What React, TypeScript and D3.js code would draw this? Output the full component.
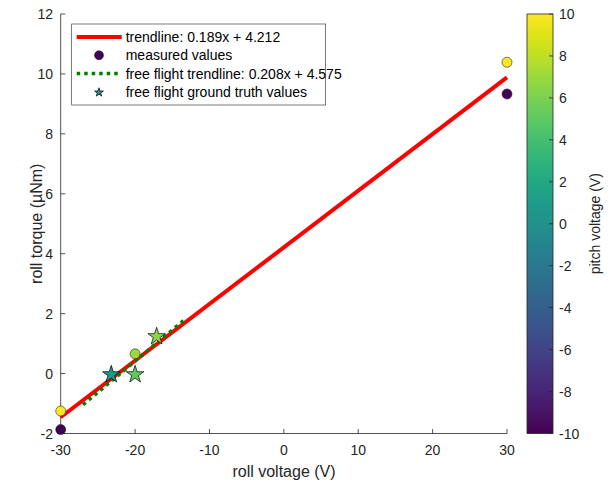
import React from "react";
import * as d3 from "d3";

const measuredRoll = [-30, -30, -20, 30, 30];
const measuredTorque = [-1.25, -1.87, 0.66, 10.39, 9.33];
const measuredPitch = [10, -10, 7, 10, -10];

const freeFlightRoll = [-23.2, -20, -17.1];
const freeFlightTorque = [0, 0, 1.27];
const freeFlightPitch = [0.5, 5, 6.5];

const trendSlope = 0.189;
const trendIntercept = 4.212;
const trendRange = [-30, 30];

const ffSlope = 0.208;
const ffIntercept = 4.575;
const ffRange = [-27, -13.5];

const xTicks = [-30, -20, -10, 0, 10, 20, 30];
const yTicks = [-2, 0, 2, 4, 6, 8, 10, 12];
const cTicks = [-10, -8, -6, -4, -2, 0, 2, 4, 6, 8, 10];

const legendLabels = [
  "trendline: 0.189x + 4.212",
  "measured values",
  "free flight trendline: 0.208x + 4.575",
  "free flight ground truth values",
];

const FONT = "'Liberation Sans', Arial, Helvetica, sans-serif";
const AX = "#262626";

export default function App() {
  const W = 611;
  const H = 485;
  const x = d3.scaleLinear().domain([-30, 30]).range([60.7, 507]);
  const y = d3.scaleLinear().domain([-2, 12]).range([433.5, 14]);
  const cb = d3.scaleLinear().domain([-10, 10]).range([433.5, 14]);
  const color = (v: number) => d3.interpolateViridis((v + 10) / 20);

  const line = d3
    .line<number>()
    .x((d) => x(d))
    .y((d) => y(trendSlope * d + trendIntercept));
  const ffLine = d3
    .line<number>()
    .x((d) => x(d))
    .y((d) => y(ffSlope * d + ffIntercept));

  const star = d3.symbol().type(d3.symbolStar).size(95)();
  const starSmall = d3.symbol().type(d3.symbolStar).size(24)();

  const cbX0 = 527;
  const cbX1 = 553;
  const stops = d3.range(0, 1.0001, 0.05);

  const lgX = 71.7;
  const lgY = 24;
  const lgW = 254;
  const lgH = 81;
  const rowY = (i: number) => 37 + i * 18.3;

  return (
    <svg
      width={W}
      height={H}
      style={{ position: "absolute", left: 0, top: 0, background: "#fff" }}
      fontFamily={FONT}
    >
      <defs>
        <linearGradient id="vir" x1="0" y1="1" x2="0" y2="0">
          {stops.map((t, i) => (
            <stop key={i} offset={t} stopColor={d3.interpolateViridis(t)} />
          ))}
        </linearGradient>
      </defs>
      <rect x={0} y={0} width={W} height={H} fill="#fff" />

      {/* axes */}
      <line x1={x(-30)} x2={x(30)} y1={y(-2)} y2={y(-2)} stroke={AX} strokeWidth={0.8} />
      <line x1={x(-30)} x2={x(-30)} y1={y(-2)} y2={y(12)} stroke={AX} strokeWidth={0.8} />
      {xTicks.map((t) => (
        <g key={"x" + t}>
          <line x1={x(t)} x2={x(t)} y1={y(-2)} y2={y(-2) - 4.5} stroke={AX} strokeWidth={0.8} />
          <text x={x(t)} y={455} textAnchor="middle" fontSize={14} fill={AX}>
            {t}
          </text>
        </g>
      ))}
      {yTicks.map((t) => (
        <g key={"y" + t}>
          <line x1={x(-30)} x2={x(-30) + 4.5} y1={y(t)} y2={y(t)} stroke={AX} strokeWidth={0.8} />
          <text x={53} y={y(t) + 5} textAnchor="end" fontSize={14} fill={AX}>
            {t}
          </text>
        </g>
      ))}
      <text x={284} y={477} textAnchor="middle" fontSize={16} fill={AX}>
        roll voltage (V)
      </text>
      <text
        transform={`translate(42,${(y(-2) + y(12)) / 2}) rotate(-90)`}
        textAnchor="middle"
        fontSize={16}
        fill={AX}
      >
        roll torque (µNm)
      </text>

      {/* lines */}
      <path d={line(trendRange) || ""} stroke="#ff0000" strokeWidth={4} fill="none" />
      <path
        d={ffLine(ffRange) || ""}
        stroke="#008000"
        strokeWidth={3.5}
        strokeDasharray="3.5,4"
        fill="none"
      />

      {/* measured */}
      {measuredRoll.map((r, i) => (
        <circle
          key={"m" + i}
          cx={x(r)}
          cy={y(measuredTorque[i])}
          r={5}
          fill={color(measuredPitch[i])}
          stroke={AX}
          strokeWidth={0.6}
        />
      ))}
      {freeFlightRoll.map((r, i) => (
        <path
          key={"s" + i}
          d={star || ""}
          transform={`translate(${x(r)},${y(freeFlightTorque[i]) + 1})`}
          fill={color(freeFlightPitch[i])}
          stroke="#000"
          strokeWidth={0.7}
        />
      ))}

      {/* legend */}
      <rect x={lgX} y={lgY} width={lgW} height={lgH} fill="#fff" stroke={AX} strokeWidth={0.6} />
      <line x1={76.7} x2={121.7} y1={rowY(0)} y2={rowY(0)} stroke="#ff0000" strokeWidth={4} />
      <circle cx={99} cy={rowY(1)} r={4.5} fill={color(-10)} stroke={AX} strokeWidth={0.6} />
      <line
        x1={76.7}
        x2={121.7}
        y1={rowY(2)}
        y2={rowY(2)}
        stroke="#008000"
        strokeWidth={3.5}
        strokeDasharray="3.5,4"
      />
      <path
        d={starSmall || ""}
        transform={`translate(99,${rowY(3) + 0.5})`}
        fill={color(0)}
        stroke="#000"
        strokeWidth={0.7}
      />
      {legendLabels.map((l, i) => (
        <text key={"l" + i} x={125.7} y={rowY(i) + 5} fontSize={14} fill="#000">
          {l}
        </text>
      ))}

      {/* colorbar */}
      <rect x={cbX0} y={cb(10)} width={cbX1 - cbX0} height={cb(-10) - cb(10)} fill="url(#vir)" stroke={AX} strokeWidth={0.8} />
      {cTicks.map((t) => (
        <g key={"c" + t}>
          <line x1={cbX1 - 4} x2={cbX1} y1={cb(t)} y2={cb(t)} stroke={AX} strokeWidth={0.8} />
          <text x={559} y={cb(t) + 5} fontSize={14} fill={AX}>
            {t}
          </text>
        </g>
      ))}
      <text
        transform={`translate(600,${(cb(10) + cb(-10)) / 2}) rotate(-90)`}
        textAnchor="middle"
        fontSize={14}
        fill={AX}
      >
        pitch voltage (V)
      </text>
    </svg>
  );
}
